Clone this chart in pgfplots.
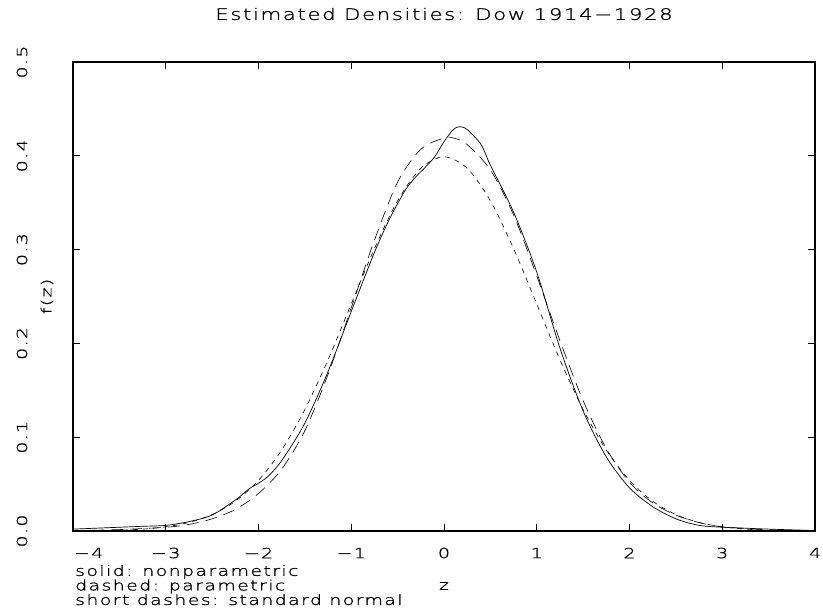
\documentclass[border=0pt]{standalone}
\usepackage{fontspec}
\IfFontExistsTF{DejaVu Sans ExtraLight}
  {\setmainfont{DejaVu Sans ExtraLight}[LetterSpace=10, FakeStretch=1.35, FakeBold=1.2]}
  {\setmainfont{DejaVu Sans}[LetterSpace=10, FakeStretch=1.35]}
\usepackage{pgfplots}
\pgfplotsset{compat=1.18}
\newcommand{\chartfont}{\fontsize{14}{13.5}\selectfont}
\begin{document}
\begin{tikzpicture}[font=\chartfont]
\useasboundingbox (-73pt,-84pt) rectangle (750pt,531pt);
\begin{axis}[
  scale only axis, width=742pt, height=469pt,
  at={(0,0)}, anchor=south west,
  xmin=-4, xmax=4, ymin=0, ymax=0.5,
  xtick={-4,-3,-2,-1,0,1,2,3,4},
  xticklabels={\makebox[0pt][l]{\hspace{1pt}−4},−3,−2,−1,0,1,2,3,4},
  ytick={0,0.1,0.2,0.3,0.4,0.5},
  yticklabels={0.0,0.1,0.2,0.3,0.4,0.5},
  tick align=inside, major tick length=7pt,
  tick style={black, line width=0.7pt},
  axis line style={line width=1.3pt},
  every tick label/.append style={font=\chartfont},
  xticklabel style={anchor=center, yshift=-22pt},
  yticklabel style={rotate=90, anchor=center, yshift=51pt},
  xlabel={z}, ylabel={f(z)},
  label style={font=\chartfont},
  xlabel style={at={(axis description cs:0.5,0)}, anchor=center, yshift=-55pt},
  ylabel style={at={(axis description cs:0,0.5)}, anchor=center, yshift=26pt},
  title={Estimated Densities: Dow 1914−1928},
  title style={font=\fontsize{15.8}{16}\selectfont, at={(axis description cs:0.5,1)}, anchor=center, yshift=42pt},
]
% standard normal (short dashes)
\addplot[black, line width=0.6pt, dash pattern=on 5pt off 5pt, smooth] coordinates {
(-4,0.00013) (-3.75,0.00035) (-3.5,0.00087) (-3.25,0.0020) (-3,0.0044)
(-2.75,0.0091) (-2.5,0.0175) (-2.25,0.0317) (-2,0.0540) (-1.75,0.0863)
(-1.5,0.1295) (-1.25,0.1826) (-1,0.2420) (-0.75,0.3011) (-0.5,0.3521)
(-0.25,0.3867) (0,0.3989) (0.25,0.3867) (0.5,0.3521) (0.75,0.3011)
(1,0.2420) (1.25,0.1826) (1.5,0.1295) (1.75,0.0863) (2,0.0540)
(2.25,0.0317) (2.5,0.0175) (2.75,0.0091) (3,0.0044) (3.25,0.0020)
(3.5,0.00087) (3.75,0.00035) (4,0.00013)
};
% parametric (dashed)
\addplot[black, line width=0.6pt, dash pattern=on 12pt off 7pt, smooth] coordinates {
(-4,0.0005) (-3.5,0.0015) (-3,0.004) (-2.75,0.007) (-2.5,0.013)
(-2.25,0.023) (-2,0.040) (-1.75,0.066) (-1.5,0.107) (-1.25,0.167)
(-1,0.238) (-0.75,0.310) (-0.5,0.372) (-0.25,0.407) (0,0.419)
(0.1,0.419) (0.25,0.412) (0.5,0.385) (0.75,0.337) (1,0.272)
(1.25,0.203) (1.5,0.139) (1.75,0.088) (2,0.052) (2.25,0.030)
(2.5,0.017) (2.75,0.009) (3,0.0045) (3.5,0.0012) (4,0.0003)
};
% nonparametric (solid)
\addplot[black, line width=0.7pt, smooth] coordinates {
(-4,0.002) (-3.75,0.003) (-3.5,0.004) (-3.25,0.005) (-3,0.006)
(-2.75,0.010) (-2.5,0.017) (-2.25,0.033) (-2.1,0.045) (-2,0.051)
(-1.9,0.058) (-1.75,0.075) (-1.5,0.115) (-1.25,0.170) (-1,0.234)
(-0.75,0.297) (-0.6,0.330) (-0.5,0.349) (-0.4,0.366) (-0.3,0.378)
(-0.2,0.388) (-0.1,0.399) (0,0.415) (0.1,0.428) (0.17,0.431)
(0.25,0.428) (0.4,0.412) (0.5,0.390) (0.75,0.340) (1,0.276)
(1.25,0.195) (1.5,0.128) (1.75,0.079) (2,0.046) (2.25,0.026)
(2.5,0.013) (2.75,0.006) (3,0.004) (3.25,0.003) (3.5,0.002) (4,0.0005)
};
\end{axis}
\node[anchor=north west, align=left, inner sep=0pt, font=\chartfont]
  at ([xshift=2pt, yshift=-34pt]current axis.south west)
  {solid: nonparametric\\dashed: parametric\\short dashes: standard normal};
\end{tikzpicture}
\end{document}
